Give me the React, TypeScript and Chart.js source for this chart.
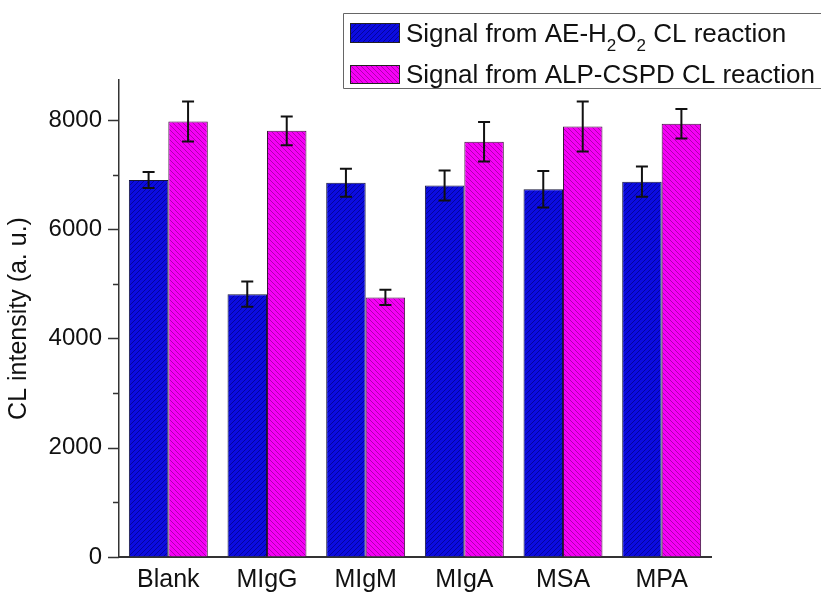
import React, { useEffect, useRef } from "react";
import { Chart, registerables } from "chart.js";

Chart.register(...registerables);

const categories = ["Blank", "MIgG", "MIgM", "MIgA", "MSA", "MPA"];
const aeValues = [6900, 4810, 6850, 6800, 6730, 6870];
const aeErrors = [145, 230, 255, 275, 335, 275];
const alpValues = [7970, 7800, 4750, 7600, 7880, 7930];
const alpErrors = [365, 262, 140, 360, 457, 270];
const majorTicks = [0, 2000, 4000, 6000, 8000];
const minorTicks = [1000, 3000, 5000, 7000];
const yMin = 0;
const yMax = 8730;
const yTitle = "CL intensity (a. u.)";

const FONT = "'Liberation Sans', Arial, Helvetica, sans-serif";

function makePattern(base: string, line: string, forward: boolean) {
  const s = 5;
  const c = document.createElement("canvas");
  c.width = s;
  c.height = s;
  const g = c.getContext("2d")!;
  g.fillStyle = base;
  g.fillRect(0, 0, s, s);
  g.strokeStyle = line;
  g.lineWidth = 1;
  g.beginPath();
  if (forward) {
    g.moveTo(-1, 1); g.lineTo(1, -1);
    g.moveTo(0, s); g.lineTo(s, 0);
    g.moveTo(s - 1, s + 1); g.lineTo(s + 1, s - 1);
  } else {
    g.moveTo(0, 0); g.lineTo(s, s);
    g.moveTo(-1, s - 1); g.lineTo(1, s + 1);
    g.moveTo(s - 1, -1); g.lineTo(s + 1, 1);
  }
  g.stroke();
  return g.createPattern(c, "repeat")!;
}

export default function App() {
  const ref = useRef<HTMLCanvasElement | null>(null);

  useEffect(() => {
    const canvas = ref.current!;
    const ctx0 = canvas.getContext("2d")!;
    const bluePat = makePattern("#0c0ce0", "rgba(0,0,110,0.6)", true);
    const magPat = makePattern("#f600f6", "rgba(130,0,130,0.6)", false);

    const errorBars = {
      id: "errorBars",
      afterDatasetsDraw(chart: any) {
        const ctx = chart.ctx;
        const ys = chart.scales.y;
        const errs = [aeErrors, alpErrors];
        ctx.save();
        ctx.strokeStyle = "#111";
        ctx.lineWidth = 2;
        chart.data.datasets.forEach((ds: any, i: number) => {
          const meta = chart.getDatasetMeta(i);
          meta.data.forEach((el: any, j: number) => {
            const v = ds.data[j];
            const e = errs[i][j];
            const x = el.x;
            const yt = ys.getPixelForValue(v + e);
            const yb = ys.getPixelForValue(v - e);
            ctx.beginPath();
            ctx.moveTo(x, yt); ctx.lineTo(x, yb);
            ctx.moveTo(x - 6, yt); ctx.lineTo(x + 6, yt);
            ctx.moveTo(x - 6, yb); ctx.lineTo(x + 6, yb);
            ctx.stroke();
          });
        });
        ctx.restore();
      },
    };

    const axisTicks = {
      id: "axisTicks",
      afterDraw(chart: any) {
        const ctx = chart.ctx;
        const ys = chart.scales.y;
        const left = chart.chartArea.left;
        ctx.save();
        ctx.strokeStyle = "#333";
        ctx.lineWidth = 1.5;
        ctx.beginPath();
        majorTicks.forEach((t) => {
          const y = Math.round(ys.getPixelForValue(t)) + 0.5;
          ctx.moveTo(left - 11, y); ctx.lineTo(left, y);
        });
        minorTicks.forEach((t) => {
          const y = Math.round(ys.getPixelForValue(t)) + 0.5;
          ctx.moveTo(left - 6, y); ctx.lineTo(left, y);
        });
        ctx.stroke();
        ctx.restore();
      },
    };

    const legendBox = {
      id: "legendBox",
      afterDraw(chart: any) {
        const ctx = chart.ctx;
        ctx.save();
        ctx.strokeStyle = "#666";
        ctx.lineWidth = 1;
        ctx.beginPath();
        ctx.moveTo(830, 13.5); ctx.lineTo(343.5, 13.5); ctx.lineTo(343.5, 88.5); ctx.lineTo(830, 88.5);
        ctx.stroke();
        const rows = [
          { pat: bluePat, y: 23, h: 20, base: 41.5 },
          { pat: magPat, y: 65, h: 19, base: 83 },
        ];
        rows.forEach((r) => {
          ctx.fillStyle = r.pat;
          ctx.fillRect(350, r.y, 50, r.h);
          ctx.strokeStyle = "#222";
          ctx.strokeRect(350.5, r.y + 0.5, 49, r.h - 1);
        });
        ctx.fillStyle = "#111";
        ctx.textBaseline = "alphabetic";
        ctx.textAlign = "left";
        const big = `26px ${FONT}`;
        const small = `17px ${FONT}`;
        const parts: [string, boolean][] = [
          ["Signal from AE-H", false],
          ["2", true],
          ["O", false],
          ["2", true],
          [" CL reaction", false],
        ];
        let x = 406;
        parts.forEach(([t, sub]) => {
          ctx.font = sub ? small : big;
          ctx.fillText(t, x, sub ? rows[0].base + 9 : rows[0].base);
          x += ctx.measureText(t).width;
        });
        ctx.font = big;
        ctx.fillText("Signal from ALP-CSPD CL reaction", 406, rows[1].base);
        ctx.restore();
      },
    };

    const chart = new Chart(ctx0, {
      type: "bar",
      data: {
        labels: categories,
        datasets: [
          {
            label: "Signal from AE-H₂O₂ CL reaction",
            data: aeValues,
            backgroundColor: bluePat,
            borderColor: "#14143a",
            borderWidth: 1,
            categoryPercentage: 0.8,
            barPercentage: 1.0,
          },
          {
            label: "Signal from ALP-CSPD CL reaction",
            data: alpValues,
            backgroundColor: magPat,
            borderColor: "#3a143a",
            borderWidth: 1,
            categoryPercentage: 0.8,
            barPercentage: 1.0,
          },
        ],
      },
      options: {
        animation: false,
        responsive: false,
        devicePixelRatio: 1,
        layout: { padding: { top: 80, right: 110, left: 0, bottom: 0 } },
        plugins: {
          legend: { display: false },
          tooltip: { enabled: false },
        },
        scales: {
          x: {
            grid: { display: true, drawOnChartArea: false, drawTicks: true, tickLength: 0, color: "transparent" },
            border: { display: true, color: "#333", width: 2 },
            ticks: {
              padding: 8,
              color: "#111",
              font: { family: FONT, size: 25 },
              maxRotation: 0,
              autoSkip: false,
            },
            afterFit(scale: any) {
              scale.height = 38;
            },
          },
          y: {
            min: yMin,
            max: yMax,
            grid: { display: true, drawOnChartArea: false, drawTicks: true, tickLength: 11, color: "transparent" },
            border: { display: true, color: "#333", width: 1.5 },
            afterBuildTicks(scale: any) {
              scale.ticks = majorTicks.map((v) => ({ value: v }));
            },
            ticks: {
              padding: 6,
              color: "#111",
              font: { family: FONT, size: 24 },
              callback: (v: any) => String(v),
            },
            title: {
              display: true,
              text: yTitle,
              color: "#111",
              font: { family: FONT, size: 25 },
              padding: { top: 4, bottom: 0 },
            },
            afterFit(scale: any) {
              scale.width = 119;
            },
          },
        },
      },
      plugins: [errorBars, axisTicks, legendBox],
    });

    return () => chart.destroy();
  }, []);

  return (
    <div style={{ position: "fixed", left: 0, top: 0, width: 821, height: 595, background: "#fff" }}>
      <canvas ref={ref} width={821} height={595} style={{ width: 821, height: 595 }} />
    </div>
  );
}
